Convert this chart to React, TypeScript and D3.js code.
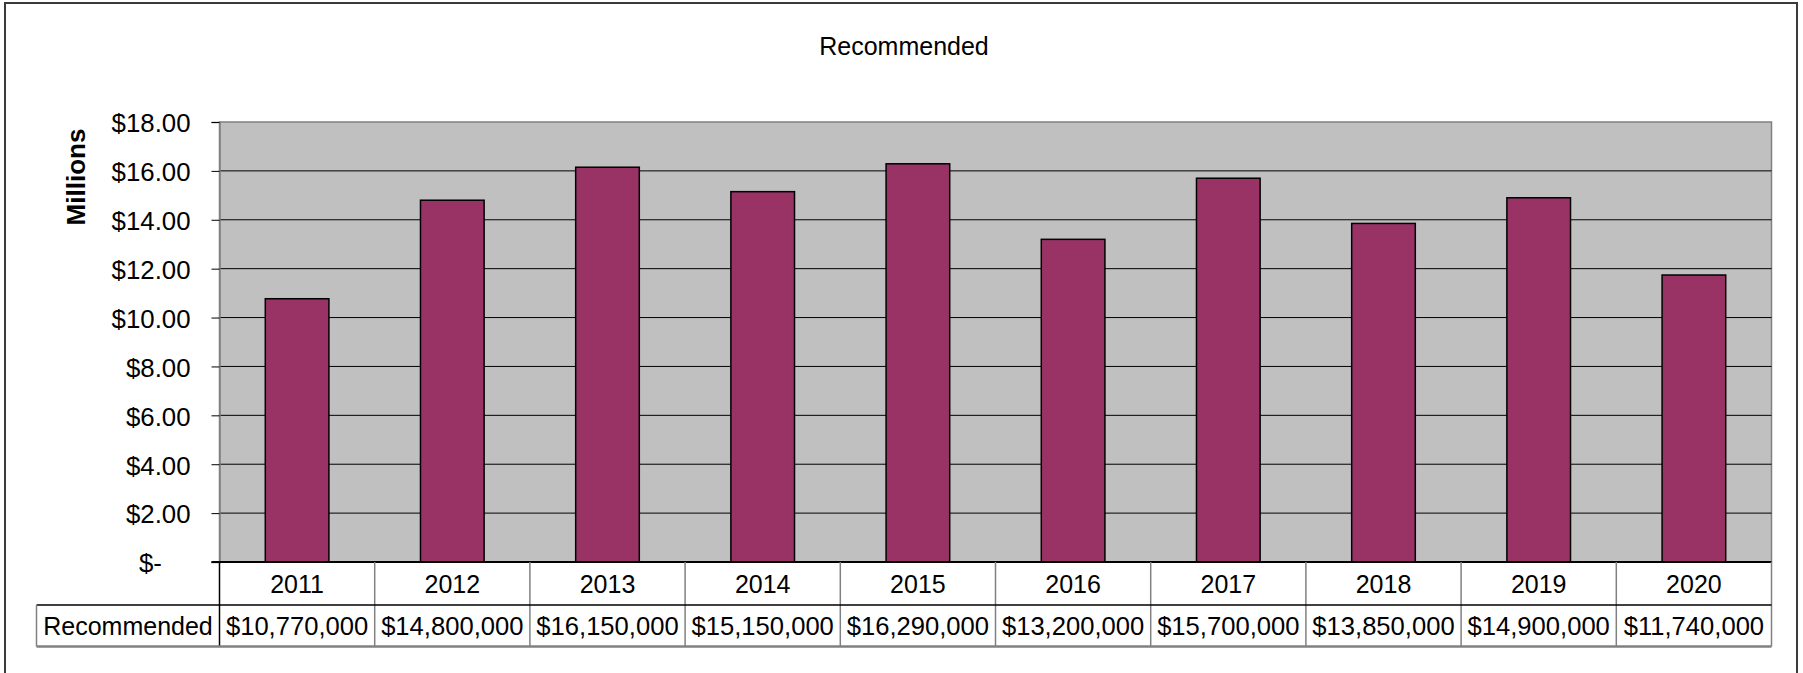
import React, { useEffect, useRef } from 'react';
import * as d3 from 'd3';

// Chart data
const years = ['2011', '2012', '2013', '2014', '2015', '2016', '2017', '2018', '2019', '2020'];
const recommended = [10770000, 14800000, 16150000, 15150000, 16290000, 13200000, 15700000, 13850000, 14900000, 11740000];
const yTicks = [0, 2, 4, 6, 8, 10, 12, 14, 16, 18];
const chartTitle = 'Recommended';
const seriesName = 'Recommended';
const yAxisTitle = 'Millions';

const FONT = '"Liberation Sans", Arial, sans-serif';

const App: React.FC = () => {
  const svgRef = useRef<SVGSVGElement | null>(null);

  useEffect(() => {
    const width = 1803;
    const height = 673;
    const plot = { left: 219.5, right: 1771.5, top: 122, bottom: 562 };
    const row1Bottom = 605;
    const row2Bottom = 646.5;
    const tableLeft = 36.5;

    const svg = d3.select(svgRef.current)
      .attr('width', width)
      .attr('height', height)
      .style('display', 'block')
      .style('font-family', FONT);

    svg.selectAll('*').remove();

    svg.append('rect')
      .attr('width', width)
      .attr('height', height)
      .attr('fill', '#ffffff');

    // outer chart border
    svg.append('rect')
      .attr('x', 5)
      .attr('y', 3)
      .attr('width', 1792)
      .attr('height', 700)
      .attr('fill', 'none')
      .attr('stroke', '#3a3a3a')
      .attr('stroke-width', 2);

    const x = d3.scaleBand<string>()
      .domain(years)
      .range([plot.left, plot.right])
      .padding(0);

    const y = d3.scaleLinear()
      .domain([0, 18])
      .range([plot.bottom, plot.top]);

    // plot area
    svg.append('rect')
      .attr('x', plot.left)
      .attr('y', plot.top)
      .attr('width', plot.right - plot.left)
      .attr('height', plot.bottom - plot.top)
      .attr('fill', '#c0c0c0')
      .attr('stroke', '#808080')
      .attr('stroke-width', 1.5);

    // gridlines
    svg.append('g')
      .selectAll('line')
      .data(yTicks.filter(t => t > 0 && t < 18))
      .join('line')
      .attr('x1', plot.left)
      .attr('x2', plot.right)
      .attr('y1', d => y(d))
      .attr('y2', d => y(d))
      .attr('stroke', '#000')
      .attr('stroke-width', 1);

    // bars
    const barW = x.bandwidth() * 0.41;
    svg.append('g')
      .selectAll('rect')
      .data(recommended)
      .join('rect')
      .attr('x', (d, i) => (x(years[i]) ?? 0) + (x.bandwidth() - barW) / 2)
      .attr('y', d => y(d / 1e6))
      .attr('width', barW)
      .attr('height', d => plot.bottom - y(d / 1e6))
      .attr('fill', '#993366')
      .attr('stroke', '#000')
      .attr('stroke-width', 1.5);

    // y axis
    const yAxis = svg.append('g')
      .attr('transform', `translate(${plot.left},0)`)
      .call(
        d3.axisLeft(y)
          .tickValues(yTicks)
          .tickSize(8)
          .tickPadding(21)
          .tickFormat(d => (+d === 0 ? '$-' + '\u00A0'.repeat(4) : d3.format('$.2f')(+d)))
      );
    yAxis.select('.domain').attr('stroke', '#808080').attr('stroke-width', 1.5);
    yAxis.selectAll('.tick line').attr('stroke', '#000').attr('stroke-width', 1);
    yAxis.selectAll('.tick text')
      .attr('fill', '#000')
      .attr('dy', '0.38em')
      .style('font-family', FONT)
      .style('font-size', '25.8px');

    // zero line
    svg.append('line')
      .attr('x1', plot.left - 8)
      .attr('x2', plot.right)
      .attr('y1', y(0))
      .attr('y2', y(0))
      .attr('stroke', '#000')
      .attr('stroke-width', 2);

    // data table
    const table = svg.append('g');
    const grey = '#808080';

    table.selectAll('line.col')
      .data(years.map((yr) => x(yr) ?? 0).concat([plot.right]))
      .join('line')
      .attr('class', 'col')
      .attr('x1', d => d)
      .attr('x2', d => d)
      .attr('y1', plot.bottom)
      .attr('y2', row2Bottom)
      .attr('stroke', (d, i) => (i === 0 ? '#000' : grey))
      .attr('stroke-width', 1.5);

    table.append('line')
      .attr('x1', tableLeft)
      .attr('x2', plot.right)
      .attr('y1', row1Bottom)
      .attr('y2', row1Bottom)
      .attr('stroke', '#000')
      .attr('stroke-width', 1.5);

    table.append('line')
      .attr('x1', tableLeft)
      .attr('x2', plot.right)
      .attr('y1', row2Bottom)
      .attr('y2', row2Bottom)
      .attr('stroke', grey)
      .attr('stroke-width', 2.5);

    table.append('line')
      .attr('x1', tableLeft)
      .attr('x2', tableLeft)
      .attr('y1', row1Bottom)
      .attr('y2', row2Bottom)
      .attr('stroke', grey)
      .attr('stroke-width', 1.5);

    table.selectAll('text.year')
      .data(years)
      .join('text')
      .attr('class', 'year')
      .attr('x', d => (x(d) ?? 0) + x.bandwidth() / 2)
      .attr('y', (plot.bottom + row1Bottom) / 2)
      .attr('dy', '0.36em')
      .attr('text-anchor', 'middle')
      .style('font-size', '25px')
      .text(d => d);

    table.selectAll('text.val')
      .data(recommended)
      .join('text')
      .attr('class', 'val')
      .attr('x', (d, i) => (x(years[i]) ?? 0) + x.bandwidth() / 2)
      .attr('y', (row1Bottom + row2Bottom) / 2)
      .attr('dy', '0.36em')
      .attr('text-anchor', 'middle')
      .style('font-size', '25.6px')
      .text(d => d3.format('$,')(d));

    table.append('text')
      .attr('x', (tableLeft + plot.left) / 2)
      .attr('y', (row1Bottom + row2Bottom) / 2)
      .attr('dy', '0.36em')
      .attr('text-anchor', 'middle')
      .style('font-size', '25px')
      .text(seriesName);

    // title
    svg.append('text')
      .attr('x', 904)
      .attr('y', 55)
      .attr('text-anchor', 'middle')
      .style('font-size', '25px')
      .text(chartTitle);

    // y axis title
    svg.append('text')
      .attr('transform', 'translate(85,177) rotate(-90)')
      .attr('text-anchor', 'middle')
      .style('font-size', '26px')
      .style('font-weight', 'bold')
      .text(yAxisTitle);
  }, []);

  return (
    <div style={{ position: 'absolute', left: 0, top: 0 }}>
      <svg ref={svgRef}></svg>
    </div>
  );
};

export default App;
